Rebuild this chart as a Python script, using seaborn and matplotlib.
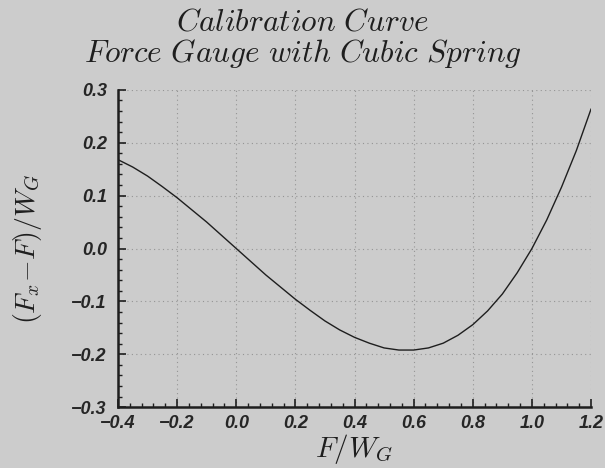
import numpy as np
import pandas as pd
import seaborn as sns
import matplotlib.pyplot as plt
from matplotlib.ticker import MultipleLocator

# values
force = [-0.40, -0.35, -0.30, -0.25, -0.20, -0.15, -0.10, -0.05, 0.00,
         0.05, 0.10, 0.15, 0.20, 0.25, 0.30, 0.35, 0.40, 0.45, 0.50,
         0.55, 0.60, 0.65, 0.70, 0.75, 0.80, 0.85, 0.90, 0.95, 1.00,
         1.05, 1.10, 1.15, 1.20]
error = [0.168, 0.154, 0.137, 0.117, 0.096, 0.073, 0.050, 0.025, 0.000,
         -0.025, -0.050, -0.073, -0.096, -0.117, -0.137, -0.154, -0.168, -0.179, -0.188,
         -0.192, -0.192, -0.188, -0.179, -0.164, -0.144, -0.118, -0.086, -0.046, 0.000,
         0.054, 0.116, 0.185, 0.264]

x_ticks = [-0.4, -0.2, 0.0, 0.2, 0.4, 0.6, 0.8, 1.0, 1.2]
y_ticks = [-0.3, -0.2, -0.1, 0.0, 0.1, 0.2, 0.3]

df = pd.DataFrame({"F": force, "err": error})

sns.set_style("ticks")
plt.rcParams['mathtext.fontset'] = 'cm'
bg = "#cccccc"
ink = "#1e1e1e"

fig = plt.figure(figsize=(6.05, 4.68), dpi=100, facecolor=bg)
ax = fig.add_axes([0.195, 0.130, 0.782, 0.678], facecolor=bg)

sns.lineplot(data=df, x="F", y="err", ax=ax, color=ink, linewidth=1.0)

ax.set_xlim(-0.4, 1.2)
ax.set_ylim(-0.3, 0.3)
ax.set_xticks(x_ticks)
ax.set_yticks(y_ticks)
ax.xaxis.set_minor_locator(MultipleLocator(0.04))
ax.yaxis.set_minor_locator(MultipleLocator(0.02))

tick_font = dict(family="Liberation Sans", weight="bold", style="italic", size=13)
ax.set_xticklabels([f"{v:.1f}".replace("-", "\u2212") for v in x_ticks], fontdict=tick_font)
ax.set_yticklabels([f"{v:.1f}".replace("-", "\u2212") for v in y_ticks], fontdict=tick_font)

ax.tick_params(which="major", direction="in", length=6, width=1.2, color=ink)
ax.tick_params(axis="x", which="major", pad=6)
ax.tick_params(axis="y", which="major", pad=8)
ax.tick_params(which="minor", direction="in", length=3, width=1.0, color=ink)
ax.grid(True, which="major", linestyle=(0, (1, 3)), color="#959595", linewidth=0.8)

for side in ["top", "right"]:
    ax.spines[side].set_visible(False)
for side in ["left", "bottom"]:
    ax.spines[side].set_linewidth(1.8)
    ax.spines[side].set_color(ink)

ax.set_xlabel(r"$F/W_G$", fontsize=21, color=ink, labelpad=0)
ax.set_ylabel(r"$(F_x\!-\!F)/W_G$", fontsize=20, color=ink, labelpad=20)

fig.text(0.5, 0.953, r"$Calibration\ Curve$", ha="center", va="center",
         fontsize=22.5, color=ink)
fig.text(0.5, 0.885, r"$Force\ Gauge\ with\ Cubic\ Spring$", ha="center", va="center",
         fontsize=22.5, color=ink)

fig.savefig("out.png", dpi=100, facecolor=bg)
